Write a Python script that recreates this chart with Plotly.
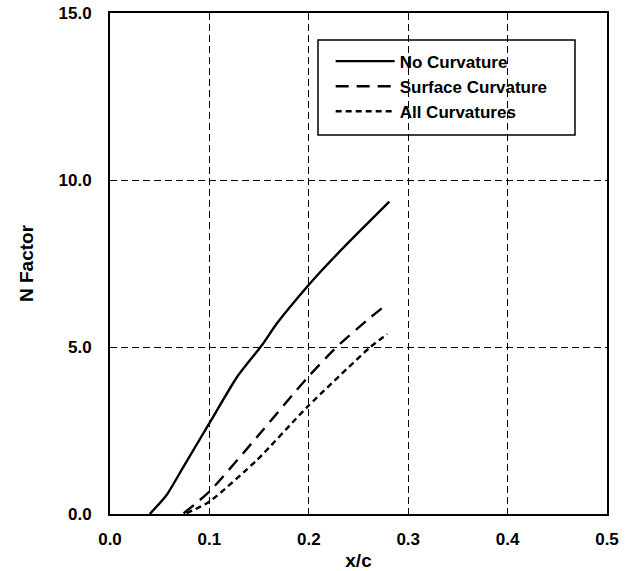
import plotly.graph_objects as go

# Data
x_no = [0.040, 0.057, 0.074, 0.100, 0.128, 0.153, 0.168, 0.197, 0.212, 0.239, 0.281]
y_no = [0.00, 0.57, 1.42, 2.72, 4.11, 5.06, 5.71, 6.76, 7.26, 8.10, 9.35]

x_surf = [0.074, 0.100, 0.148, 0.198, 0.228, 0.259, 0.277]
y_surf = [0.02, 0.67, 2.31, 4.06, 5.00, 5.81, 6.24]

x_all = [0.077, 0.100, 0.148, 0.198, 0.262, 0.279]
y_all = [0.02, 0.37, 1.62, 3.19, 5.00, 5.39]

names = ["No Curvature", "Surface Curvature", "All Curvatures"]
x_ticks = [0.0, 0.1, 0.2, 0.3, 0.4, 0.5]
y_ticks = [0.0, 5.0, 10.0, 15.0]

FONT = "Liberation Sans, Arial, Helvetica, sans-serif"

fig = go.Figure()
series = [(x_no, y_no, "solid", 2.4), (x_surf, y_surf, "13px,8px", 2.4), (x_all, y_all, "6px,4px", 2.4)]
for i, ((xs, ys, dash, w), nm) in enumerate(zip(series, names)):
    fig.add_trace(go.Scatter(x=xs, y=ys, mode="lines", name=nm, legendgroup=str(i),
                             line=dict(color="black", width=w, dash=dash, shape="spline", smoothing=0.6)))

axis_common = dict(showline=True, linecolor="black", linewidth=1.8, mirror=True,
                   showgrid=True, gridcolor="black", griddash="7px,4px", gridwidth=1.4,
                   zeroline=False, ticks="", tickformat=".1f", automargin=False,
                   tickfont=dict(family=FONT, size=17, color="black", weight="bold"))

fig.update_xaxes(range=[0, 0.5], tickvals=x_ticks, **axis_common, ticklabelstandoff=9,
                 title=dict(text="x/c", font=dict(family=FONT, size=19, color="black", weight="bold"), standoff=6))
fig.update_yaxes(range=[0, 15], tickvals=y_ticks, **axis_common, ticklabelstandoff=13,
                 title=dict(text="N Factor", font=dict(family=FONT, size=19, color="black", weight="bold"), standoff=20))

fig.update_layout(
    width=629, height=571,
    margin=dict(l=110, r=22, t=13, b=57),
    paper_bgcolor="white", plot_bgcolor="white",
    showlegend=True,
    legend=dict(x=0.444, y=0.939, xanchor="left", yanchor="top",
                bgcolor="rgba(0,0,0,0)", borderwidth=0, tracegroupgap=0, itemwidth=59,
                font=dict(family=FONT, size=17, color="black", weight="bold")),
    shapes=[dict(type="rect", xref="paper", yref="paper", x0=0.4185, x1=0.9356, y0=0.7565, y1=0.946,
                 line=dict(color="black", width=1.5), fillcolor="white", layer="between")],
)

fig.write_html("out.html")
